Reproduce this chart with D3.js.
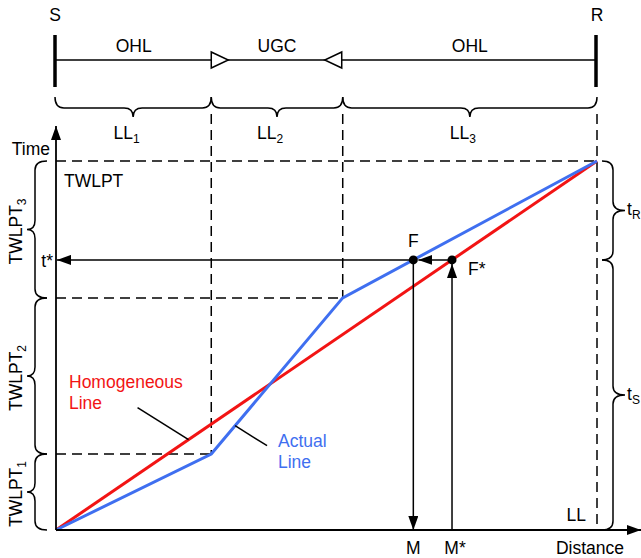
<!DOCTYPE html>
<html>
<head>
<meta charset="utf-8">
<script src="https://cdn.jsdelivr.net/npm/d3@7"></script>
<style>
  body { margin: 0; background: #fff; }
  text { font-family: "Liberation Sans", Arial, sans-serif; font-size: 17.5px; }
</style>
</head>
<body>
<div id="diagram"></div>
<script>
// line sections from S to R
var sectionNames = ["OHL", "UGC", "OHL"];
var sectionLabels = [["LL", "1"], ["LL", "2"], ["LL", "3"]];
var distBounds = [0, 28.7, 53.0, 100];      // cumulative distance (% of LL)
var timeBounds = [0, 20.6, 62.9, 100];      // cumulative travelling time (% of TWLPT)
var timeLabels = [["TWLPT", "1"], ["TWLPT", "2"], ["TWLPT", "3"]];

var actualLine = [[0, 0], [28.7, 20.6], [53.0, 62.9], [100, 100]];
var homogeneousLine = [[0, 0], [100, 100]];
var tStar = 73.2;

var width = 641, height = 558;
var blue = "#3f6ff0", red = "#f21414";

var svg = d3.select("#diagram").append("svg")
    .attr("width", width)
    .attr("height", height);

var x = d3.scaleLinear().domain([0, 100]).range([56, 597]);
var y = d3.scaleLinear().domain([0, 100]).range([530, 161]);

// arrow head
svg.append("defs").append("marker")
    .attr("id", "arrow")
    .attr("viewBox", "0 0 14 10")
    .attr("refX", 14).attr("refY", 5)
    .attr("markerWidth", 14).attr("markerHeight", 10)
    .attr("markerUnits", "userSpaceOnUse")
    .attr("orient", "auto")
    .append("path")
    .attr("d", "M0,0L14,5L0,10Z")
    .attr("fill", "black");

// curly brace, u = along, v = across
function bracePath(a, b, base, dir, d1, d2, vertical) {
    var r = 9, s = b > a ? 1 : -1, m = (a + b) / 2;
    var P = function(u, v){ return vertical ? (v + "," + u) : (u + "," + v); };
    var v1 = base + dir * d1, v2 = base + dir * d2;
    return "M" + P(a, base) +
        "Q" + P(a, v1) + " " + P(a + r * s, v1) +
        "L" + P(m - r * s, v1) +
        "Q" + P(m, v1) + " " + P(m, v2) +
        "Q" + P(m, v1) + " " + P(m + r * s, v1) +
        "L" + P(b - r * s, v1) +
        "Q" + P(b, v1) + " " + P(b, base);
}

function subText(g, parts, attrs) {
    var t = g.append("text");
    Object.keys(attrs).forEach(function(k){ t.attr(k, attrs[k]); });
    t.append("tspan").text(parts[0]);
    t.append("tspan").text(parts[1]).attr("font-size", 12).attr("dy", 4);
    return t;
}

// ---- top: single line diagram ----
var topY = 60;
svg.append("line")
    .attr("x1", x(0)).attr("x2", x(100))
    .attr("y1", topY).attr("y2", topY)
    .attr("stroke", "black").attr("stroke-width", 1.5);

[0, 100].forEach(function(d){
    svg.append("line")
        .attr("x1", x(d) - 1).attr("x2", x(d) - 1)
        .attr("y1", 35).attr("y2", 87)
        .attr("stroke", "black").attr("stroke-width", 3.5);
});
svg.append("text").attr("x", x(0) - 1).attr("y", 21).attr("text-anchor", "middle").text("S");
svg.append("text").attr("x", x(100)).attr("y", 21).attr("text-anchor", "middle").text("R");

// transition triangles pointing into the cable
var tri1 = x(distBounds[1]), tri2 = x(distBounds[2]) - 1;
svg.append("path")
    .attr("d", "M" + tri1 + "," + (topY - 8) + "L" + (tri1 + 17) + "," + topY + "L" + tri1 + "," + (topY + 8) + "Z")
    .attr("fill", "white").attr("stroke", "black").attr("stroke-width", 1.5);
svg.append("path")
    .attr("d", "M" + tri2 + "," + (topY - 8) + "L" + (tri2 - 17) + "," + topY + "L" + tri2 + "," + (topY + 8) + "Z")
    .attr("fill", "white").attr("stroke", "black").attr("stroke-width", 1.5);

sectionNames.forEach(function(name, i){
    var mid = (x(distBounds[i]) + x(distBounds[i + 1])) / 2;
    svg.append("text").attr("x", mid).attr("y", 52).attr("text-anchor", "middle").text(name);
    svg.append("path")
        .attr("d", bracePath(x(distBounds[i]) - (i == 0 ? 1 : 0), x(distBounds[i + 1]), 97, 1, 11, 20, false))
        .attr("fill", "none").attr("stroke", "black").attr("stroke-width", 1.5);
    subText(svg, sectionLabels[i], {x: mid - 7, y: 139, "text-anchor": "middle"});
});

// ---- dashed guide lines ----
var dash = "10,6";
function dashed(x1, y1, x2, y2) {
    svg.append("line")
        .attr("x1", x1).attr("y1", y1).attr("x2", x2).attr("y2", y2)
        .attr("stroke", "black").attr("stroke-width", 1.5)
        .attr("stroke-dasharray", dash);
}
dashed(x(distBounds[1]), 114, x(distBounds[1]), y(timeBounds[1]));
dashed(x(distBounds[2]), 114, x(distBounds[2]), y(timeBounds[2]));
dashed(x(100), 114, x(100), y(0));
for (var i = 1; i < 4; i++) {
    dashed(x(0), y(timeBounds[i]), x(distBounds[i]), y(timeBounds[i]));
}

// ---- left braces (TWLPT parts) ----
for (var j = 0; j < 3; j++) {
    var a = y(timeBounds[j + 1]), b = y(timeBounds[j]);
    svg.append("path")
        .attr("d", bracePath(a, b, 47, -1, 12, 20, true))
        .attr("fill", "none").attr("stroke", "black").attr("stroke-width", 1.5);
    var cy = (a + b) / 2;
    subText(svg, timeLabels[j], {transform: "translate(22," + (cy + 2) + ") rotate(-90)", "text-anchor": "middle"});
}

// ---- right braces (tR, tS) ----
var rightParts = [[100, tStar, "R"], [tStar, 0, "S"]];
rightParts.forEach(function(p){
    var a = y(p[0]), b = y(p[1]);
    svg.append("path")
        .attr("d", bracePath(a, b, 602, 1, 11, 23, true))
        .attr("fill", "none").attr("stroke", "black").attr("stroke-width", 1.5);
    subText(svg, ["t", p[2]], {x: 627, y: (a + b) / 2 + 5});
});

// ---- time-distance lines ----
var line = d3.line().x(function(d){ return x(d[0]); }).y(function(d){ return y(d[1]); });
svg.append("path").datum(homogeneousLine).attr("d", line)
    .attr("fill", "none").attr("stroke", red).attr("stroke-width", 3);
svg.append("path").datum(actualLine).attr("d", line)
    .attr("fill", "none").attr("stroke", blue).attr("stroke-width", 3);

// intersection of t* with each line
function distAt(pts, t) {
    for (var k = 1; k < pts.length; k++) {
        if (t <= pts[k][1]) {
            var p0 = pts[k - 1], p1 = pts[k];
            return p0[0] + (t - p0[1]) / (p1[1] - p0[1]) * (p1[0] - p0[0]);
        }
    }
    return pts[pts.length - 1][0];
}
var fDist = distAt(actualLine, tStar);
var fStarDist = distAt(homogeneousLine, tStar);

function arrowLine(x1, y1, x2, y2) {
    svg.append("line")
        .attr("x1", x1).attr("y1", y1).attr("x2", x2).attr("y2", y2)
        .attr("stroke", "black").attr("stroke-width", 1.5)
        .attr("marker-end", "url(#arrow)");
}

// axes
svg.append("line").attr("x1", x(0)).attr("y1", y(0)).attr("x2", x(0)).attr("y2", 126)
    .attr("stroke", "black").attr("stroke-width", 1.8).attr("marker-end", "url(#arrow)");
svg.append("line").attr("x1", x(0)).attr("y1", y(0)).attr("x2", 641).attr("y2", y(0))
    .attr("stroke", "black").attr("stroke-width", 1.8).attr("marker-end", "url(#arrow)");

arrowLine(x(fDist), y(tStar), x(0) + 1, y(tStar));
arrowLine(x(fStarDist), y(tStar), x(fDist) + 5, y(tStar));
arrowLine(x(fDist), y(tStar), x(fDist), y(0));
arrowLine(x(fStarDist), y(0), x(fStarDist), y(tStar) + 4);

svg.selectAll("circle.pt")
    .data([fDist, fStarDist])
    .enter().append("circle")
    .attr("class", "pt")
    .attr("cx", function(d){ return x(d); })
    .attr("cy", y(tStar))
    .attr("r", 4.5)
    .attr("fill", "black");

// leaders
var homLeader = 24.5, actLeader = 33.1;
svg.append("line")
    .attr("x1", x(homLeader) - 51).attr("y1", y(homLeader) - 32)
    .attr("x2", x(homLeader)).attr("y2", y(homLeader))
    .attr("stroke", "black").attr("stroke-width", 1.5);
var actY = y(distAt(actualLine.map(function(d){ return [d[1], d[0]]; }), actLeader));
svg.append("line")
    .attr("x1", x(actLeader)).attr("y1", actY)
    .attr("x2", x(actLeader) + 32).attr("y2", actY + 20)
    .attr("stroke", "black").attr("stroke-width", 1.5);

// ---- labels ----
svg.append("text").attr("x", 50).attr("y", 155).attr("text-anchor", "end").text("Time");
svg.append("text").attr("x", 64).attr("y", 187).text("TWLPT");
svg.append("text").attr("x", 53).attr("y", 267).attr("text-anchor", "end").text("t*");
svg.append("text").attr("x", x(fDist)).attr("y", 247).attr("text-anchor", "middle").text("F");
svg.append("text").attr("x", x(fStarDist) + 16).attr("y", 275).text("F*");
svg.append("text").attr("x", x(fDist)).attr("y", 554).attr("text-anchor", "middle").text("M");
svg.append("text").attr("x", x(fStarDist) + 3).attr("y", 554).attr("text-anchor", "middle").text("M*");
svg.append("text").attr("x", 590).attr("y", 554).attr("text-anchor", "middle").text("Distance");
svg.append("text").attr("x", 586).attr("y", 521).attr("text-anchor", "end").text("LL");

svg.append("text").attr("x", 69).attr("y", 388).attr("fill", red).text("Homogeneous");
svg.append("text").attr("x", 69).attr("y", 409).attr("fill", red).text("Line");
svg.append("text").attr("x", 278).attr("y", 447).attr("fill", blue).text("Actual");
svg.append("text").attr("x", 278).attr("y", 468).attr("fill", blue).text("Line");
</script>
</body>
</html>
